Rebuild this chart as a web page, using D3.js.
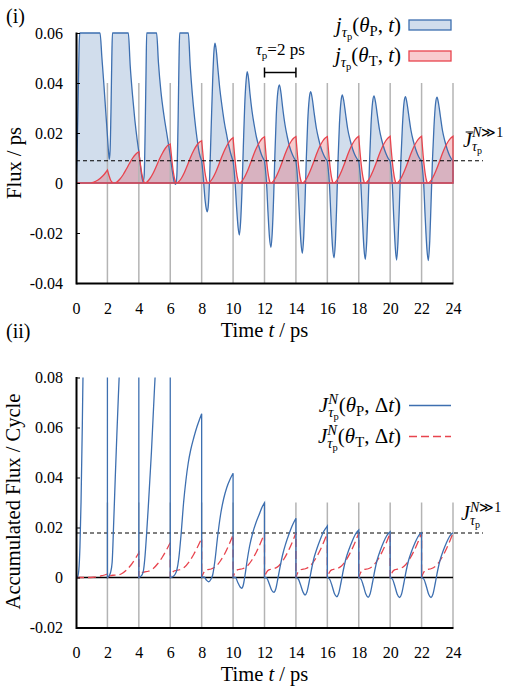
<!DOCTYPE html>
<html>
<head>
<meta charset="utf-8">
<script src="https://cdn.jsdelivr.net/npm/d3@7"></script>
<style>
  body { margin: 0; background: #fff; }
  svg { display: block; }
  svg text { font-family: "Liberation Serif", "Times New Roman", serif; white-space: pre; }
</style>
</head>
<body>
<svg id="chart" width="510" height="690"></svg>
<script>
// ---- data (time in ps) ----
const timeTicks = [0, 2, 4, 6, 8, 10, 12, 14, 16, 18, 20, 22, 24];
const cycleEdges = [2, 4, 6, 8, 10, 12, 14, 16, 18, 20, 22, 24];
const fluxTicks = [-0.04, -0.02, 0, 0.02, 0.04, 0.06];
const accumTicks = [-0.02, 0, 0.02, 0.04, 0.06, 0.08];
const meanFlux = 0.0089;   // mean flux per ps, N >> 1
const meanAccum = 0.0178;  // mean accumulated flux per cycle, N >> 1

// (i) j(theta_P, t), one array per pulse cycle (values above 0.06 are cut at the frame)
const fluxP = [
  [[0,0],[0.07,0.012],[0.14,0.035],[0.2,0.055],[0.24,0.06],[1.53,0.06],[1.65,0.05],[1.78,0.039],[1.9,0.028],[2,0.019]],
  [[2,0.019],[2.07,0.0125],[2.12,0.0095],[2.17,0.013],[2.23,0.03],[2.28,0.05],[2.32,0.06],[3.33,0.06],[3.45,0.047],[3.6,0.035],[3.75,0.025],[3.9,0.017],[4,0.0125]],
  [[4,0.0125],[4.1,0.007],[4.18,0.003],[4.27,0.0005],[4.34,0.003],[4.4,0.02],[4.46,0.045],[4.5,0.06],[5.13,0.06],[5.25,0.048],[5.4,0.037],[5.6,0.027],[5.8,0.019],[6,0.011]],
  [[6,0.011],[6.15,0.004],[6.27,0],[6.35,-0.0005],[6.42,0.003],[6.5,0.025],[6.56,0.05],[6.6,0.06],[7.15,0.06],[7.27,0.047],[7.4,0.036],[7.55,0.026],[7.7,0.018],[7.85,0.012],[8,0.0088]],
  [[8,0.0088],[8.06,0.0055],[8.13,0],[8.22,-0.007],[8.3,-0.0105],[8.36,-0.0115],[8.43,-0.0085],[8.5,0.001],[8.6,0.021],[8.7,0.041],[8.78,0.0525],[8.85,0.0559],[8.93,0.053],[9.03,0.046],[9.15,0.038],[9.3,0.0305],[9.45,0.024],[9.6,0.019],[9.75,0.0143],[9.9,0.0107],[10,0.0088]],
  [[10,0.0088],[10.06,0.0055],[10.13,0],[10.22,-0.0095],[10.32,-0.0178],[10.4,-0.0208],[10.48,-0.0155],[10.56,-0.004],[10.65,0.014],[10.74,0.031],[10.83,0.041],[10.9,0.0445],[10.98,0.042],[11.08,0.0355],[11.2,0.029],[11.35,0.023],[11.5,0.018],[11.65,0.0145],[11.8,0.0115],[11.92,0.0098],[12,0.0088]],
  [[12,0.0088],[12.06,0.0055],[12.13,0],[12.22,-0.0115],[12.32,-0.022],[12.41,-0.0257],[12.5,-0.019],[12.58,-0.006],[12.66,0.011],[12.75,0.027],[12.85,0.0365],[12.95,0.0392],[13.05,0.036],[13.15,0.0305],[13.3,0.0235],[13.45,0.0185],[13.6,0.0145],[13.75,0.0118],[13.9,0.0098],[14,0.0088]],
  [[14,0.0088],[14.06,0.0055],[14.12,0],[14.22,-0.0125],[14.32,-0.0238],[14.41,-0.0281],[14.5,-0.021],[14.58,-0.0075],[14.66,0.0095],[14.75,0.0245],[14.85,0.0338],[14.94,0.0365],[15.04,0.0338],[15.15,0.0285],[15.3,0.022],[15.45,0.0175],[15.6,0.014],[15.75,0.0115],[15.9,0.0097],[16,0.0088]],
  [[16,0.0088],[16.06,0.0055],[16.13,0],[16.23,-0.0135],[16.33,-0.0255],[16.43,-0.0299],[16.52,-0.0225],[16.6,-0.008],[16.68,0.009],[16.77,0.0235],[16.87,0.0327],[16.95,0.0352],[17.05,0.0327],[17.16,0.0277],[17.3,0.0215],[17.45,0.0172],[17.6,0.0138],[17.75,0.0113],[17.9,0.0096],[18,0.0088]],
  [[18,0.0088],[18.06,0.0055],[18.13,0],[18.23,-0.0138],[18.33,-0.026],[18.42,-0.0305],[18.51,-0.023],[18.6,-0.0082],[18.69,0.009],[18.78,0.0232],[18.88,0.0323],[18.97,0.0348],[19.07,0.0323],[19.18,0.0274],[19.32,0.0213],[19.47,0.017],[19.62,0.0137],[19.77,0.0112],[19.9,0.0096],[20,0.0088]],
  [[20,0.0088],[20.06,0.0055],[20.13,0],[20.23,-0.014],[20.33,-0.0262],[20.41,-0.0308],[20.5,-0.0232],[20.59,-0.0085],[20.68,0.0088],[20.78,0.0228],[20.88,0.032],[20.97,0.0345],[21.07,0.032],[21.18,0.0272],[21.32,0.0212],[21.47,0.0169],[21.62,0.0136],[21.77,0.0111],[21.9,0.0096],[22,0.0088]],
  [[22,0.0088],[22.06,0.0055],[22.13,0],[22.23,-0.0138],[22.34,-0.0265],[22.43,-0.031],[22.52,-0.0232],[22.6,-0.0085],[22.69,0.0088],[22.79,0.0227],[22.89,0.0318],[22.98,0.0343],[23.08,0.0318],[23.19,0.027],[23.33,0.021],[23.48,0.0168],[23.63,0.0135],[23.78,0.011],[23.91,0.0095],[24,0.0087]]
];

// (i) j(theta_T, t)
const fluxT = [
  [[0,0],[0.8,0],[1.1,0.0003],[1.4,0.0012],[1.7,0.0028],[1.9,0.0043],[2,0.0052]],
  [[2,0.0052],[2.1,0.003],[2.2,0.0012],[2.3,0.0003],[2.4,0],[2.6,0.0004],[2.8,0.0016],[3,0.0033],[3.2,0.0055],[3.4,0.0078],[3.6,0.0099],[3.8,0.0115],[3.92,0.0122],[4,0.0125]],
  [[4,0.0125],[4.1,0.0075],[4.2,0.0034],[4.3,0.0008],[4.4,0],[4.5,0.0003],[4.7,0.0017],[4.9,0.0038],[5.1,0.0065],[5.3,0.0094],[5.5,0.0119],[5.7,0.014],[5.85,0.0151],[6,0.0156]],
  [[6,0.0156],[6.1,0.0094],[6.2,0.0043],[6.3,0.0011],[6.4,0],[6.5,0.0003],[6.7,0.0018],[6.9,0.0042],[7.1,0.0072],[7.3,0.0104],[7.5,0.0131],[7.7,0.0152],[7.85,0.0163],[8,0.0169]],
  [[8,0.0169],[8.1,0.0102],[8.2,0.0047],[8.3,0.0012],[8.4,0],[8.5,0.0003],[8.7,0.0019],[8.9,0.0044],[9.1,0.0075],[9.3,0.0108],[9.5,0.0137],[9.7,0.016],[9.85,0.0173],[10,0.0181]],
  [[10,0.0181],[10.1,0.0108],[10.2,0.005],[10.3,0.0013],[10.4,0],[10.5,0.0003],[10.7,0.002],[10.9,0.0046],[11.1,0.0078],[11.3,0.0112],[11.5,0.0142],[11.7,0.0165],[11.85,0.0178],[12,0.0185]],
  [[12,0.0185],[12.1,0.011],[12.2,0.0051],[12.3,0.0013],[12.4,0],[12.5,0.0003],[12.7,0.002],[12.9,0.0047],[13.1,0.0079],[13.3,0.0114],[13.5,0.0144],[13.7,0.0167],[13.85,0.0179],[14,0.0186]],
  [[14,0.0186],[14.1,0.011],[14.2,0.0051],[14.3,0.0013],[14.4,0],[14.5,0.0003],[14.7,0.002],[14.9,0.0047],[15.1,0.0079],[15.3,0.0114],[15.5,0.0144],[15.7,0.0167],[15.85,0.0179],[16,0.0186]],
  [[16,0.0186],[16.1,0.011],[16.2,0.0051],[16.3,0.0013],[16.4,0],[16.5,0.0003],[16.7,0.002],[16.9,0.0047],[17.1,0.0079],[17.3,0.0114],[17.5,0.0144],[17.7,0.0167],[17.85,0.0179],[18,0.0187]],
  [[18,0.0187],[18.1,0.011],[18.2,0.0051],[18.3,0.0013],[18.4,0],[18.5,0.0003],[18.7,0.002],[18.9,0.0047],[19.1,0.0079],[19.3,0.0114],[19.5,0.0144],[19.7,0.0167],[19.85,0.0179],[20,0.0187]],
  [[20,0.0187],[20.1,0.011],[20.2,0.0051],[20.3,0.0013],[20.4,0],[20.5,0.0003],[20.7,0.002],[20.9,0.0047],[21.1,0.0079],[21.3,0.0114],[21.5,0.0144],[21.7,0.0167],[21.85,0.0179],[22,0.0187]],
  [[22,0.0187],[22.1,0.011],[22.2,0.0051],[22.3,0.0013],[22.4,0],[22.5,0.0003],[22.7,0.002],[22.9,0.0047],[23.1,0.0079],[23.3,0.0114],[23.5,0.0144],[23.7,0.0167],[23.85,0.0179],[24,0.0187]]
];

// (ii) J(theta_P, dt), restarts at every cycle (first three cycles leave the frame)
const accumP = [
  [[0,0],[0.1,0.0003],[0.18,0.003],[0.25,0.012],[0.32,0.03],[0.4,0.06],[0.48,0.095],[2,0.3]],
  [[2,0],[2.1,0.0006],[2.2,0.002],[2.3,0.006],[2.4,0.022],[2.5,0.04],[2.6,0.057],[2.7,0.073],[2.8,0.088],[4,0.3]],
  [[4,0],[4.1,0.0004],[4.2,0.001],[4.3,0.003],[4.4,0.009],[4.5,0.018],[4.6,0.028],[4.7,0.039],[4.8,0.05],[4.9,0.063],[5,0.076],[5.1,0.088],[6,0.3]],
  [[6,0],[6.15,0.0003],[6.3,0.0012],[6.42,0.003],[6.55,0.008],[6.7,0.018],[6.85,0.03],[7,0.039],[7.15,0.046],[7.3,0.051],[7.5,0.056],[7.7,0.0603],[7.85,0.063],[8,0.0655]],
  [[8,0],[8.15,0.0002],[8.3,-0.001],[8.45,-0.0017],[8.58,-0.0008],[8.7,0.001],[8.85,0.007],[9,0.0155],[9.2,0.025],[9.4,0.0315],[9.6,0.036],[9.8,0.0392],[10,0.0417]],
  [[10,0],[10.15,0],[10.3,-0.002],[10.45,-0.0038],[10.55,-0.0043],[10.65,-0.003],[10.75,0.0005],[10.9,0.007],[11.05,0.0125],[11.25,0.0178],[11.45,0.0218],[11.65,0.025],[11.85,0.0282],[12,0.0299]],
  [[12,0],[12.15,-0.0003],[12.3,-0.0025],[12.45,-0.005],[12.6,-0.0059],[12.72,-0.0045],[12.85,-0.0005],[13,0.0045],[13.15,0.009],[13.35,0.0135],[13.55,0.0172],[13.75,0.0205],[13.9,0.0225],[14,0.0237]],
  [[14,0],[14.15,-0.0006],[14.3,-0.003],[14.45,-0.0058],[14.58,-0.007],[14.7,-0.0058],[14.85,-0.0015],[15,0.0035],[15.15,0.0078],[15.35,0.0118],[15.55,0.0152],[15.75,0.0182],[15.9,0.0197],[16,0.0206]],
  [[16,0],[16.15,-0.0007],[16.3,-0.0033],[16.45,-0.0064],[16.6,-0.0077],[16.72,-0.0064],[16.87,-0.002],[17.02,0.003],[17.17,0.0072],[17.37,0.0111],[17.57,0.0143],[17.77,0.0171],[17.9,0.0183],[18,0.019]],
  [[18,0],[18.15,-0.0007],[18.3,-0.0034],[18.45,-0.0066],[18.6,-0.0079],[18.72,-0.0066],[18.87,-0.0022],[19.02,0.0028],[19.17,0.007],[19.37,0.0108],[19.57,0.014],[19.77,0.0166],[19.9,0.0177],[20,0.0183]],
  [[20,0],[20.15,-0.0007],[20.3,-0.0035],[20.45,-0.0067],[20.6,-0.008],[20.72,-0.0067],[20.87,-0.0023],[21.02,0.0027],[21.17,0.0068],[21.37,0.0106],[21.57,0.0137],[21.77,0.0163],[21.9,0.0174],[22,0.0179]],
  [[22,0],[22.15,-0.0007],[22.3,-0.0035],[22.45,-0.0067],[22.6,-0.008],[22.72,-0.0067],[22.87,-0.0023],[23.02,0.0027],[23.17,0.0068],[23.37,0.0106],[23.57,0.0137],[23.77,0.0163],[23.9,0.0174],[24,0.0179]]
];

// (ii) J(theta_T, dt)
const accumT = [
  [[0,0],[0.8,0],[1.1,0.0001],[1.4,0.0003],[1.7,0.0008],[2,0.0014]],
  [[2,0],[2.1,0.0004],[2.2,0.0007],[2.35,0.0009],[2.6,0.001],[2.9,0.0015],[3.2,0.0029],[3.5,0.005],[3.8,0.0078],[4,0.0099]],
  [[4,0],[4.1,0.0012],[4.2,0.0019],[4.35,0.0022],[4.6,0.0025],[4.9,0.0035],[5.2,0.0055],[5.5,0.0082],[5.8,0.0115],[6,0.0139]],
  [[6,0],[6.1,0.0015],[6.2,0.0024],[6.35,0.0028],[6.6,0.0031],[6.9,0.0041],[7.2,0.0063],[7.5,0.0093],[7.8,0.013],[8,0.0157]],
  [[8,0],[8.1,0.0016],[8.2,0.0026],[8.35,0.0031],[8.6,0.0034],[8.9,0.0044],[9.2,0.0067],[9.5,0.0099],[9.8,0.014],[10,0.017]],
  [[10,0],[10.1,0.0017],[10.2,0.0027],[10.35,0.0032],[10.6,0.0035],[10.9,0.0046],[11.2,0.007],[11.5,0.0104],[11.8,0.0146],[12,0.0177]],
  [[12,0],[12.1,0.0017],[12.2,0.0027],[12.35,0.0032],[12.6,0.0035],[12.9,0.0046],[13.2,0.007],[13.5,0.0104],[13.8,0.0146],[14,0.0178]],
  [[14,0],[14.1,0.0017],[14.2,0.0027],[14.35,0.0032],[14.6,0.0035],[14.9,0.0046],[15.2,0.007],[15.5,0.0104],[15.8,0.0146],[16,0.0178]],
  [[16,0],[16.1,0.0017],[16.2,0.0027],[16.35,0.0032],[16.6,0.0035],[16.9,0.0046],[17.2,0.007],[17.5,0.0104],[17.8,0.0146],[18,0.0178]],
  [[18,0],[18.1,0.0017],[18.2,0.0027],[18.35,0.0032],[18.6,0.0035],[18.9,0.0046],[19.2,0.007],[19.5,0.0104],[19.8,0.0146],[20,0.0178]],
  [[20,0],[20.1,0.0017],[20.2,0.0027],[20.35,0.0032],[20.6,0.0035],[20.9,0.0046],[21.2,0.007],[21.5,0.0104],[21.8,0.0146],[22,0.0178]],
  [[22,0],[22.1,0.0017],[22.2,0.0027],[22.35,0.0032],[22.6,0.0035],[22.9,0.0046],[23.2,0.007],[23.5,0.0104],[23.8,0.0146],[24,0.0178]]
];

// ---- styling ----
const BLUE = '#3d6fb0';
const RED = '#e8444e';
const GREY = '#b4b4b4';

const svg = d3.select('#chart');

const x = d3.scaleLinear().domain([0, 24]).range([76, 453]);
const yTop = d3.scaleLinear().domain([-0.04, 0.06]).range([283, 33]);
const yBot = d3.scaleLinear().domain([-0.02, 0.08]).range([627.5, 377.5]);

// one path through all cycles; cycle boundaries are joined with straight segments
function joined(cycles, y) {
  const line = d3.line()
    .x(d => x(d[0]))
    .y(d => y(d[1]))
    .curve(d3.curveMonotoneX);
  return cycles.map((c, i) => (i ? 'L' + line(c).slice(1) : line(c))).join('');
}

// rich text: parts are {t, i(italic), s(scale), b(baseline shift), mark, back, after}
function rich(parent, px, py, anchor, size, parts) {
  const g = parent.append('g');
  const text = g.append('text').attr('fill', '#000');
  let cursor = 0;
  let saved = 0;
  let maxX = 0;
  const pos = [];
  parts.forEach(p => {
    if (p.back) cursor = saved;
    if (p.after) cursor = maxX;
    if (p.mark) saved = cursor;
    const span = text.append('tspan')
      .attr('x', cursor)
      .attr('y', p.b || 0)
      .attr('font-size', size * (p.s || 1))
      .attr('font-style', p.i ? 'italic' : 'normal')
      .text(p.t);
    const w = span.node().getComputedTextLength();
    pos.push([cursor, w]);
    cursor += w;
    maxX = Math.max(maxX, cursor);
  });
  let x0 = px;
  if (anchor === 'end') x0 = px - maxX;
  if (anchor === 'middle') x0 = px - maxX / 2;
  g.attr('transform', `translate(${x0},${py})`);
  return { g, pos };
}

function drawAxes(y, ticks) {
  const bottom = y.range()[0];
  svg.append('g')
    .attr('transform', `translate(0,${bottom})`)
    .call(d3.axisBottom(x).tickValues(timeTicks).tickSize(0).tickSizeOuter(0)
      .tickPadding(19.5).tickFormat(d3.format('d')))
    .call(g => g.select('.domain').attr('stroke', '#000').attr('stroke-width', 2))
    .call(g => g.selectAll('text').attr('font-size', 16).attr('fill', '#000'));

  svg.append('g')
    .attr('transform', `translate(${x(0)},0)`)
    .call(d3.axisLeft(y).tickValues(ticks).tickSize(-4).tickSizeOuter(0)
      .tickPadding(13).tickFormat(d => (d === 0 ? '0' : d.toFixed(2))))
    .call(g => g.select('.domain').attr('stroke', '#000').attr('stroke-width', 2)
      .attr('stroke-linecap', 'square'))
    .call(g => g.selectAll('.tick line').attr('stroke', '#000').attr('stroke-width', 1))
    .call(g => g.selectAll('text').attr('font-size', 16).attr('fill', '#000'));
}

function gridLines(y, top) {
  svg.append('g')
    .selectAll('line')
    .data(cycleEdges)
    .join('line')
    .attr('x1', d => x(d))
    .attr('x2', d => x(d))
    .attr('y1', y(top))
    .attr('y2', y.range()[0])
    .attr('stroke', GREY)
    .attr('stroke-width', 1.5);
}

function meanLine(y, v) {
  svg.append('line')
    .attr('x1', x(0))
    .attr('x2', x.range()[1] + 30)
    .attr('y1', y(v))
    .attr('y2', y(v))
    .attr('stroke', '#000')
    .attr('stroke-width', 1.2)
    .attr('stroke-dasharray', '4,3');
}

const defs = svg.append('defs');
defs.append('clipPath').attr('id', 'clipTop')
  .append('rect').attr('x', x(0)).attr('y', yTop(0.06) - 2)
  .attr('width', x(24) - x(0) + 2).attr('height', yTop(-0.04) - yTop(0.06) + 2);
defs.append('clipPath').attr('id', 'clipBot')
  .append('rect').attr('x', x(0)).attr('y', yBot(0.08))
  .attr('width', x(24) - x(0) + 2).attr('height', yBot(-0.02) - yBot(0.08));

// ================= panel (i) =================
const base = `L${x(24)},${yTop(0)}L${x(0)},${yTop(0)}Z`;
const pathP = joined(fluxP, yTop) + base;
const pathT = joined(fluxT, yTop) + base;

const topPanel = svg.append('g').attr('clip-path', 'url(#clipTop)');
topPanel.append('path').attr('d', pathP).attr('fill', BLUE).attr('fill-opacity', 0.24).attr('stroke', 'none');
topPanel.append('path').attr('d', pathT).attr('fill', RED).attr('fill-opacity', 0.28).attr('stroke', 'none');
gridLines(yTop, 0.04);
const topLines = svg.append('g').attr('clip-path', 'url(#clipTop)');
topLines.append('path').attr('d', pathP).attr('fill', 'none').attr('stroke', BLUE).attr('stroke-width', 1.3);
topLines.append('path').attr('d', pathT).attr('fill', 'none').attr('stroke', RED).attr('stroke-width', 1.3);
meanLine(yTop, meanFlux);
drawAxes(yTop, fluxTicks);

// ================= panel (ii) =================
gridLines(yBot, 0.03);
svg.append('line')
  .attr('x1', x(0)).attr('x2', x(24))
  .attr('y1', yBot(0)).attr('y2', yBot(0))
  .attr('stroke', '#000').attr('stroke-width', 1.5);
meanLine(yBot, meanAccum);
const botPanel = svg.append('g').attr('clip-path', 'url(#clipBot)');
botPanel.append('path').attr('d', joined(accumT, yBot)).attr('fill', 'none')
  .attr('stroke', RED).attr('stroke-width', 1.3).attr('stroke-dasharray', '8,4');
botPanel.append('path').attr('d', joined(accumP, yBot)).attr('fill', 'none')
  .attr('stroke', BLUE).attr('stroke-width', 1.3);
drawAxes(yBot, accumTicks);

// ================= labels =================
svg.append('text').attr('x', 6).attr('y', 23).attr('font-size', 20).text('(i)');
svg.append('text').attr('x', 6).attr('y', 338).attr('font-size', 20).text('(ii)');

svg.append('text')
  .attr('transform', `translate(21,${(yTop.range()[0] + yTop.range()[1]) / 2 + 5}) rotate(-90)`)
  .attr('text-anchor', 'middle').attr('font-size', 20.5)
  .text('Flux / ps');
svg.append('text')
  .attr('transform', `translate(20,${(yBot.range()[0] + yBot.range()[1]) / 2 - 1}) rotate(-90)`)
  .attr('text-anchor', 'middle').attr('font-size', 20.5)
  .text('Accumulated Flux / Cycle');

const timeLabel = [{ t: 'Time\u00a0' }, { t: 't', i: 1 }, { t: '\u00a0/ ps' }];
rich(svg, (x(0) + x(24)) / 2, yTop.range()[0] + 53.5, 'middle', 20.5, timeLabel);
rich(svg, (x(0) + x(24)) / 2, yBot.range()[0] + 53.5, 'middle', 20.5, timeLabel);

// legend (i)
const legI = [
  { t: 'j', i: 1 }, { t: 'τ', i: 1, s: 0.7, b: 5 }, { t: 'p', s: 0.5, b: 8 },
  { t: '(' }, { t: 'θ', i: 1 }, { t: 'P', s: 0.7, b: 4 }, { t: ',\u00a0' }, { t: 't', i: 1 }, { t: ')' }
];
const legIT = legI.map(p => (p.t === 'P' ? { ...p, t: 'T' } : p));
rich(svg, 401, 32, 'end', 21, legI);
rich(svg, 401, 62, 'end', 21, legIT);
svg.append('rect').attr('x', 409).attr('y', 20).attr('width', 42).attr('height', 10)
  .attr('fill', BLUE).attr('fill-opacity', 0.24).attr('stroke', BLUE).attr('stroke-width', 1.3);
svg.append('rect').attr('x', 409).attr('y', 51).attr('width', 42).attr('height', 10)
  .attr('fill', RED).attr('fill-opacity', 0.28).attr('stroke', RED).attr('stroke-width', 1.3);

// period marker
rich(svg, (x(12) + x(14)) / 2, 55, 'middle', 17, [{ t: 'τ', i: 1 }, { t: 'p', s: 0.65, b: 4 }, { t: '=2\u00a0ps' }]);
const bar = svg.append('g').attr('stroke', '#000').attr('stroke-width', 1.5);
bar.append('line').attr('x1', x(12)).attr('x2', x(14)).attr('y1', 72.5).attr('y2', 72.5);
bar.append('line').attr('x1', x(12)).attr('x2', x(12)).attr('y1', 67.5).attr('y2', 77.5);
bar.append('line').attr('x1', x(14)).attr('x2', x(14)).attr('y1', 67.5).attr('y2', 77.5);

// mean labels
const meanTop = rich(svg, 463, 147, 'start', 20, [
  { t: 'J', i: 1 }, { t: 'N', i: 1, s: 0.7, b: -10, mark: 1 }, { t: '≫1', s: 0.7, b: -10 },
  { t: 'τ', i: 1, s: 0.7, b: 4, back: 1 }, { t: 'p', s: 0.5, b: 7 }
]);
const jw = meanTop.pos[0][1];
meanTop.g.append('line').attr('x1', jw * 0.3).attr('x2', jw + 1.5).attr('y1', -15).attr('y2', -15)
  .attr('stroke', '#000').attr('stroke-width', 1);
rich(svg, 461, 520, 'start', 20, [
  { t: 'J', i: 1 }, { t: 'N', i: 1, s: 0.7, b: -8, mark: 1 }, { t: '≫1', s: 0.7, b: -8 },
  { t: 'τ', i: 1, s: 0.7, b: 5, back: 1 }, { t: 'p', s: 0.5, b: 8 }
]);

// legend (ii)
const legII = [
  { t: 'J', i: 1 }, { t: 'N', i: 1, s: 0.7, b: -8, mark: 1 },
  { t: 'τ', i: 1, s: 0.7, b: 5, back: 1 }, { t: 'p', s: 0.5, b: 8 },
  { t: '(', after: 1 }, { t: 'θ', i: 1 }, { t: 'P', s: 0.7, b: 4 }, { t: ',\u00a0Δ' }, { t: 't', i: 1 }, { t: ')' }
];
const legIIT = legII.map(p => (p.t === 'P' ? { ...p, t: 'T' } : p));
rich(svg, 401, 412, 'end', 21, legII);
rich(svg, 401, 443, 'end', 21, legIIT);
svg.append('line').attr('x1', 409).attr('x2', 451).attr('y1', 405.5).attr('y2', 405.5)
  .attr('stroke', BLUE).attr('stroke-width', 1.3);
svg.append('line').attr('x1', 409).attr('x2', 451).attr('y1', 436.5).attr('y2', 436.5)
  .attr('stroke', RED).attr('stroke-width', 1.3).attr('stroke-dasharray', '8,4');
</script>
</body>
</html>
